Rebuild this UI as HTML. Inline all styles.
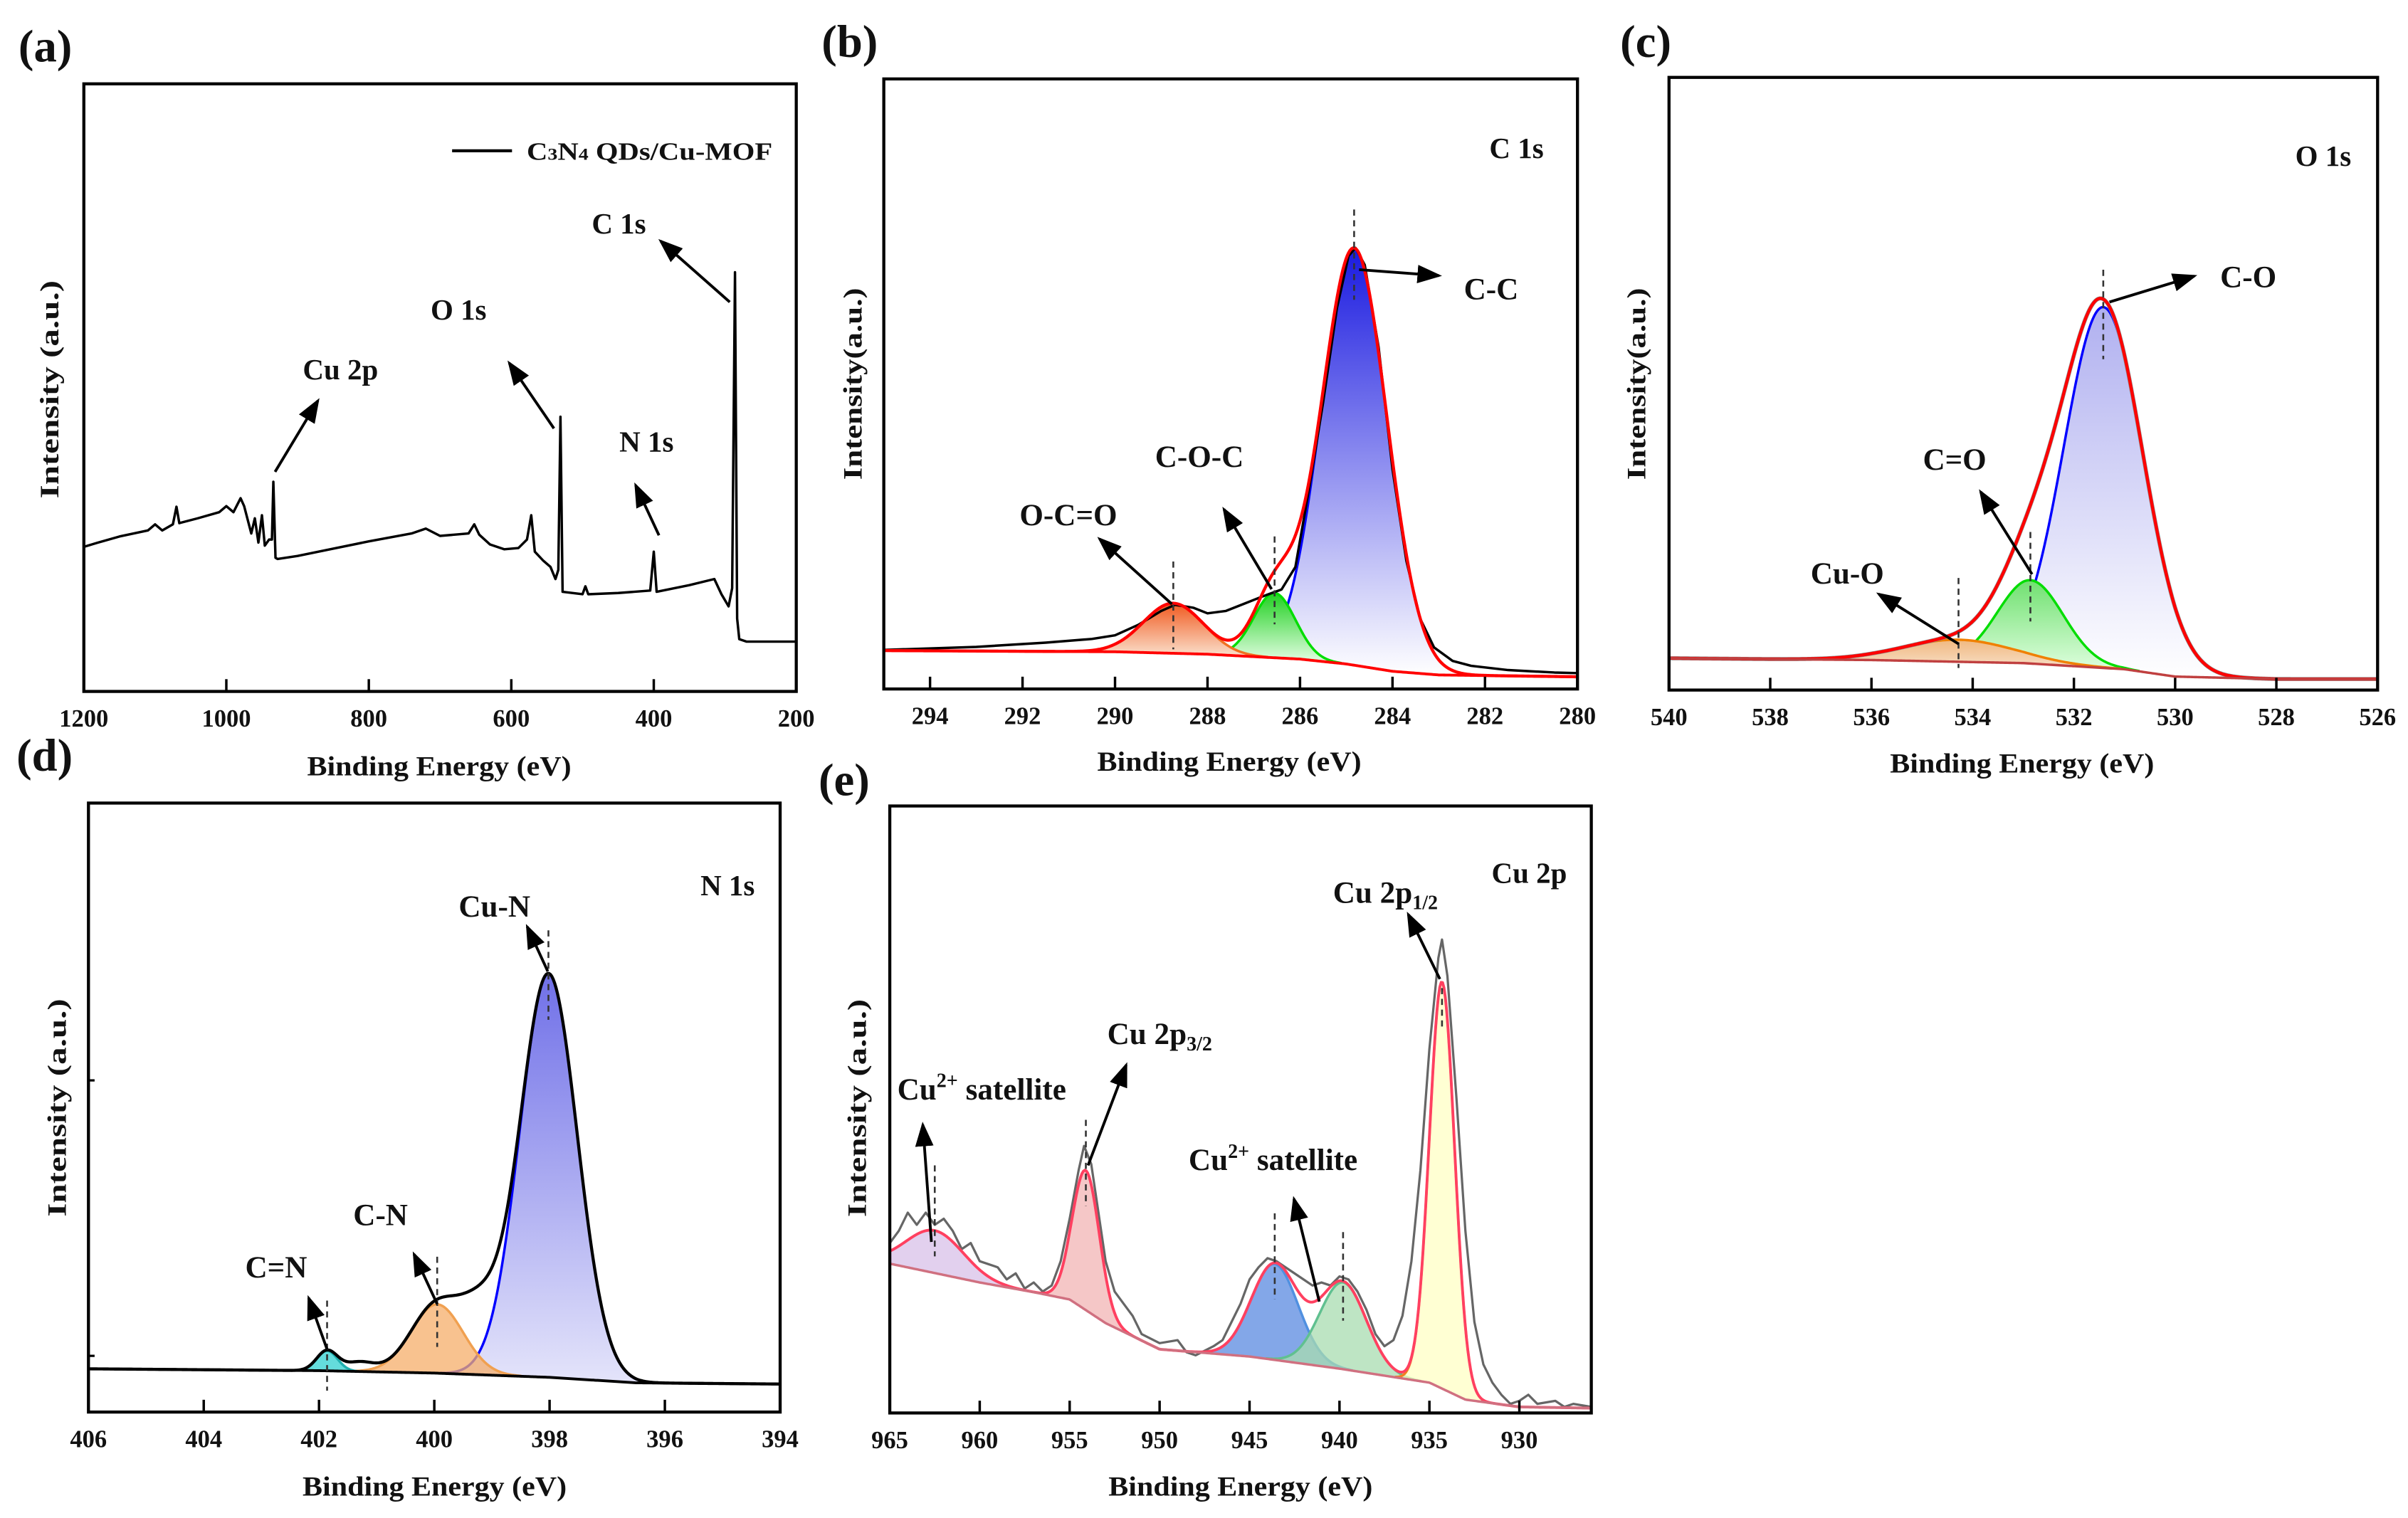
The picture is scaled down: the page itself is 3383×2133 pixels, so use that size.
<!DOCTYPE html>
<html><head><meta charset="utf-8"><style>
html,body{margin:0;padding:0;background:#fff}
svg{display:block}
text{font-family:"Liberation Serif",serif;font-weight:bold;fill:#111}
</style></head><body>
<svg id="fig" xmlns="http://www.w3.org/2000/svg" width="3383" height="2133" viewBox="0 0 1568 988.6" preserveAspectRatio="none">
<defs>
<marker id="ah" markerUnits="userSpaceOnUse" markerWidth="16" markerHeight="12" refX="14" refY="6" orient="auto"><path d="M0,0 L16,6 L0,12 z" fill="#000"/></marker>
<linearGradient id="gB1" x1="0" y1="0" x2="0" y2="1"><stop offset="0" stop-color="#1a1ae0"/><stop offset="1" stop-color="#ffffff"/></linearGradient>
<linearGradient id="gB2" x1="0" y1="0" x2="0" y2="1"><stop offset="0" stop-color="#20d020"/><stop offset="1" stop-color="#e8ffe8"/></linearGradient>
<linearGradient id="gB3" x1="0" y1="0" x2="0" y2="1"><stop offset="0" stop-color="#f05a20"/><stop offset="1" stop-color="#fbe3d0"/></linearGradient>
<linearGradient id="gC1" x1="0" y1="0" x2="0" y2="1"><stop offset="0" stop-color="#b0b0f0"/><stop offset="1" stop-color="#ffffff"/></linearGradient>
<linearGradient id="gC2" x1="0" y1="0" x2="0" y2="1"><stop offset="0" stop-color="#70e070"/><stop offset="1" stop-color="#e0ffe0"/></linearGradient>
<linearGradient id="gC3" x1="0" y1="0" x2="0" y2="1"><stop offset="0" stop-color="#f0b880"/><stop offset="1" stop-color="#f8e0c8"/></linearGradient>
<linearGradient id="gD1" x1="0" y1="0" x2="0" y2="1"><stop offset="0" stop-color="#7070e8"/><stop offset="1" stop-color="#e4e4fa"/></linearGradient>
</defs>
<g id="layer"></g>
</svg>
<script>
// ---------- DATA ----------
const aTicks=[1200,1000,800,600,400,200];
const surveyE=[1200,1180,1150,1110,1100,1090,1075,1070,1066,1040,1010,1000,990,980,975,965,960,955,950,946,940,936,934,931,928,900,850,800,740,720,700,660,652,645,630,610,590,578,572,567,555,545,538,534,531,528,500,496,492,450,405,400,396,350,315,305,295,290,286,283,280,270,200];
const surveyI=[23.8,24.5,25.5,26.5,27.5,26.5,27.5,30.4,27.7,28.5,29.5,30.5,29.5,31.8,30.5,26,28.5,24.5,29,24,25,25,34.5,22,21.8,22.3,23.5,24.7,26,26.8,25.6,26,27.5,25.8,24.2,23.4,23.6,25,29,23,21.5,20.5,18.5,20,45.2,16.4,16.0,17.3,16.0,16.2,16.6,23,16.4,17.5,18.5,16,14,17,69,12,8.6,8.2,8.2];

const bTicks=[294,292,290,288,286,284,282,280];
const bBaseE=[295,290,288,286,285,284,283,280];
const bBaseI=[6.3,6.1,5.7,4.9,4.1,2.9,2.3,2.0];
const bCenters=[284.83,286.55,288.74];
const bHeights=[68.4,10.6,8.2];
const bSigmas=[0.71,0.45,0.65];
const bRawE=[295,293,291.5,290.5,290,289.5,289,288.7,288.3,288,287.6,287.2,286.8,286.4,286.1,285.8,285.5,285.2,284.95,284.8,284.6,284.3,284,283.7,283.4,283.1,282.7,282.3,281.5,280.5,280];
const bRawI=[6.4,6.9,7.6,8.2,8.8,10.5,12.8,13.8,13.3,12.4,12.8,14,15.2,16.3,20,33,47,62.5,71,72.3,69.5,56,36,21,11.5,6.8,4.6,3.8,3.1,2.7,2.6];

const cTicks=[540,538,536,534,532,530,528,526];
const cBaseE=[540,536,533,531,530,528,526];
const cBaseI=[5.2,4.9,4.4,3.4,2.2,1.8,1.8];
const cCenters=[531.42,532.86,534.28];
const cHeights=[58.9,13.6,3.6];
const cSigmas=[0.78,0.65,1.1];

const dTicks=[406,404,402,400,398,396,394];
const dBaseE=[406,402,400,398,396.5,394];
const dBaseI=[7.1,6.8,6.4,5.7,4.8,4.6];
const dCenters=[398.02,399.95,401.86,399.2,401.3];
const dHeights=[66.3,11.3,3.3,8,1.5];
const dSigmas=[0.5,0.45,0.18,0.35,0.25];

const eTicks=[965,960,955,950,945,940,935,930];
const eBaseE=[965,960,957,955,953,950,945,940,935,933,930,926];
const eBaseI=[24.6,21.5,19.9,18.7,14.8,10.5,9.3,7.3,5.0,2.2,1.0,0.8];
const eCenters=[962.5,954.1,943.6,939.8,934.3];
const eHeights=[7,23,15.8,14.3,67];
const eSigmas=[1.6,0.75,1.3,1.3,0.7];
const eRawE=[965,964.5,964,963.5,963,962.5,962,961.5,961,960.5,960,959.5,959,958.5,958,957.5,957,956.5,956,955.5,955,954.5,954.2,953.8,953.5,953,952.5,952,951.5,951,950,949,948.5,948,947,946.5,946,945.5,945,944.5,944,943.5,943,942.5,942,941.5,941,940.5,940,939.5,939,938.5,938,937.5,937,936.5,936,935.5,935,934.5,934.3,934,933.5,933,932.5,932,931.5,931,930.5,930,929.5,929,928,927.5,927,926];
const eRawI=[28,30,33,31,33,31,32,30,27,28,25,24.5,24,22,23,20.5,21.5,20,21,25,32,40,44,41,35,25,20,18,16,13,11.5,12,10,9.5,11,12,15,18,22,24,25.5,25,24,23,22,21,21.5,21,22.5,22,20,17,13,11,12,16,25,40,60,75,78,72,52,30,15,8,5,3,1.5,2,3,1.5,2,1,1.5,1];

// ---------- LAYOUT ----------
const P={
 a:{x0:54.6,x1:518.5,y0:54.6,y1:450.3,e0:1200,e1:200},
 b:{x0:575.5,x1:1027.2,y0:51.4,y1:448.7,e0:295,e1:280},
 c:{x0:1086.8,x1:1548.2,y0:50.4,y1:449.4,e0:540,e1:526},
 d:{x0:57.6,x1:508,y0:523,y1:919.6,e0:406,e1:394},
 e:{x0:579.4,x1:1036.2,y0:524.9,y1:920.2,e0:965,e1:926}
};
const NS="http://www.w3.org/2000/svg";
const L=document.getElementById('layer');
function sx(p,E){return p.x0+(p.e0-E)/(p.e0-p.e1)*(p.x1-p.x0);}
function sy(p,v){return p.y1-v/100*(p.y1-p.y0);}
function mk(tag,attrs,parent){const el=document.createElementNS(NS,tag);for(const k in attrs)el.setAttribute(k,attrs[k]);(parent||L).appendChild(el);return el;}
function interp(xs,ys,x){for(let i=0;i<xs.length-1;i++){const a=xs[i],b=xs[i+1];if((x<=a&&x>=b)||(x>=a&&x<=b)){const t=(x-a)/(b-a);return ys[i]+t*(ys[i+1]-ys[i]);}}return x>xs[0]===xs[0]>xs[xs.length-1]?ys[0]:ys[ys.length-1];}
function gauss(E,c,h,s){return h*Math.exp(-(E-c)*(E-c)/(2*s*s));}
function grid(p,n){const g=[];for(let i=0;i<=n;i++)g.push(p.e0+(p.e1-p.e0)*i/n);return g;}
function pathFrom(p,Es,vals){return Es.map((E,i)=>(i?'L':'M')+sx(p,E).toFixed(2)+','+sy(p,vals[i]).toFixed(2)).join(' ');}

function frame(p,ticks,name){
  const g=mk('g',{});
  
  
  const r=mk('rect',{x:p.x0,y:p.y0,width:p.x1-p.x0,height:p.y1-p.y0,fill:'none',stroke:'#000','stroke-width':2},g);
  
  
  ticks.forEach(t=>{
    const x=sx(p,t);
    const tk=mk('line',{x1:x,x2:x,y1:p.y1,y2:p.y1-8,stroke:'#000','stroke-width':1.6},g);
    
    
    const tl=mk('text',{x:x,y:p.y1+23,'text-anchor':'middle','font-size':16},g);
    
    
    tl.textContent=t;
  });
}
function txt(x,y,s,size,name,anchor,extra){
  const t=mk('text',Object.assign({x:x,y:y,'font-size':size,'text-anchor':anchor||'middle'},extra||{}));
  
  
  t.textContent=s;return t;
}
function arrow(x1,y1,x2,y2,name){
  const a=mk('line',{x1:x1,y1:y1,x2:x2,y2:y2,stroke:'#000','stroke-width':1.8,'marker-end':'url(#ah)'});
  
  
}
function dash(p,E,v1,v2,name){
  const x=sx(p,E);
  const d=mk('line',{x1:x,x2:x,y1:sy(p,v1),y2:sy(p,v2),stroke:'#333','stroke-width':1.2,'stroke-dasharray':'4,3'});
  
  
}
function ytitle(x,y,s,name,len){
  const t=txt(x,y,s,17,name,'middle',{transform:'rotate(-90 '+x+' '+y+')',dy:6});
  if(len){t.setAttribute('textLength',len);t.setAttribute('lengthAdjust','spacingAndGlyphs');}
}
function xtitle(x,y,s,name){
  const t=txt(x,y,s,18,name);
  t.setAttribute('textLength',172);t.setAttribute('lengthAdjust','spacingAndGlyphs');
}
function fitPanel(p,bE,bI,C,H,S,fills,strokes,nm){
  const G=grid(p,500);
  const base=G.map(E=>interp(bE,bI,E));
  C.forEach((c,k)=>{
    if(k>=fills.length)return;
    const top=G.map((E,i)=>base[i]+gauss(E,c,H[k],S[k]));
    const idx=G.map((E,i)=>i).filter(i=>top[i]-base[i]>0.05);
    if(!idx.length)return;
    const Es=idx.map(i=>G[i]),tv=idx.map(i=>top[i]),bv=idx.map(i=>base[i]);
    const d=pathFrom(p,Es,tv)+' '+Es.slice().reverse().map((E,j)=>'L'+sx(p,E).toFixed(2)+','+sy(p,bv[bv.length-1-j]).toFixed(2)).join(' ')+' Z';
    const f=mk('path',{d:d,fill:fills[k],'fill-opacity':fills[k].startsWith('url')?1:0.75,stroke:'none'});
    
    
    const s=mk('path',{d:pathFrom(p,Es,tv),fill:'none',stroke:strokes[k],'stroke-width':1.6});
    
    
  });
  return {G:G,base:base,env:G.map((E,i)=>base[i]+C.reduce((acc,c,k)=>acc+gauss(E,c,H[k],S[k]),0))};
}
function line(p,Es,vals,color,w,name){
  const l=mk('path',{d:pathFrom(p,Es,vals),fill:'none',stroke:color,'stroke-width':w,'stroke-linejoin':'round'});
  
  
}

// ---------- PANEL A ----------
(function(){const p=P.a;
 line(p,surveyE,surveyI,'#000',1.6,'survey-spectrum');
 frame(p,aTicks,'panel-a');
 txt(12,40,'(a)',30,'panel-a-label','start');
 const lg=mk('line',{x1:294.4,x2:333.4,y1:98.2,y2:98.2,stroke:'#000','stroke-width':2});
 
 
 const t=mk('text',{x:343,y:104,'font-size':16,'text-anchor':'start',textLength:160,lengthAdjust:'spacingAndGlyphs'});
 
 
 t.innerHTML='C<tspan font-size="11">3</tspan>N<tspan font-size="11">4</tspan> QDs/Cu-MOF';
 txt(403,152,'C 1s',19,'c1s-annotation');arrow(475.2,196.7,430.2,157,'c1s-arrow');
 txt(298.6,208,'O 1s',19,'o1s-annotation');arrow(360.7,279,331.6,236.4,'o1s-arrow');
 txt(421,294,'N 1s',19,'n1s-annotation');arrow(429.1,348.6,413.9,316,'n1s-arrow');
 txt(221.7,247,'Cu 2p',19,'cu2p-annotation');arrow(179.1,307.3,207,261,'cu2p-arrow');
 ytitle(31.9,253.6,'Intensity (a.u.)','panel-a-y-title',142);
 xtitle(286,505,'Binding Energy (eV)','panel-a-x-title');
})();

// ---------- PANEL B ----------
(function(){const p=P.b;
 const r=fitPanel(p,bBaseE,bBaseI,bCenters,bHeights,bSigmas,['url(#gB1)','url(#gB2)','url(#gB3)'],['#0000ff','#00dd00','#f07020'],'c1s');
 line(p,bRawE,bRawI,'#000',1.6,'c1s-raw-spectrum');
 line(p,r.G,r.env,'#ff0000',2,'c1s-envelope');
 line(p,r.G,r.base,'#ff0000',1.8,'c1s-background');
 dash(p,284.83,78.6,63.8,'cc-dash');dash(p,286.55,25,10.6,'coc-dash');dash(p,288.74,20.9,6.5,'ocdo-dash');
 frame(p,bTicks,'panel-b');
 txt(535,37,'(b)',30,'panel-b-label','start');
 txt(987.5,103,'C 1s',19,'panel-b-title');
 txt(971,195,'C-C',20,'cc-annotation');arrow(885,175.6,937,179.5,'cc-arrow');
 txt(781,304,'C-O-C',20,'coc-annotation');arrow(828,383.7,797,331.7,'coc-arrow');
 txt(695.7,342,'O-C=O',20,'ocdo-annotation');arrow(763.1,393.4,716,351,'ocdo-arrow');
 ytitle(555,250,'Intensity(a.u.)','panel-b-y-title',125);
 xtitle(800.5,502,'Binding Energy (eV)','panel-b-x-title');
})();

// ---------- PANEL C ----------
(function(){const p=P.c;
 const r=fitPanel(p,cBaseE,cBaseI,cCenters,cHeights,cSigmas,['url(#gC1)','url(#gC2)','url(#gC3)'],['#0000ff','#00dd00','#f08000'],'o1s');
 line(p,r.G,r.env,'#888',2.6,'o1s-raw-spectrum');
 line(p,r.G,r.env,'#ff0000',2,'o1s-envelope');
 line(p,r.G,r.base,'#c04040',1.6,'o1s-background');
 dash(p,531.42,68.6,54,'co-dash');dash(p,532.86,25.8,11.2,'cdo-dash');dash(p,534.28,18.3,3.6,'cuo-dash');
 frame(p,cTicks,'panel-c');
 txt(1055,37,'(c)',30,'panel-c-label','start');
 txt(1512.8,108,'O 1s',19,'panel-c-title');
 txt(1464,187,'C-O',20,'co-annotation');arrow(1373.6,196.7,1428.9,179.8,'co-arrow');
 txt(1272.8,306,'C=O',20,'cdo-annotation');arrow(1323.2,374,1289.7,320.3,'cdo-arrow');
 txt(1202.9,380,'Cu-O',20,'cuo-annotation');arrow(1275.4,419.4,1223.4,386.9,'cuo-arrow');
 ytitle(1065.4,250,'Intensity(a.u.)','panel-c-y-title',125);
 xtitle(1316.7,503,'Binding Energy (eV)','panel-c-x-title');
})();

// ---------- PANEL D ----------
(function(){const p=P.d;
 const r=fitPanel(p,dBaseE,dBaseI,dCenters,dHeights,dSigmas,['url(#gD1)','#f5ad6a','#30d0d0'],['#0000ff','#f0a050','#20b0b0'],'n1s');
 line(p,r.G,r.env,'#000',2,'n1s-envelope');
 line(p,r.G,r.base,'#000',1.8,'n1s-background');
 dash(p,398.02,79.1,64.4,'cun-dash');dash(p,399.95,25.5,10.7,'cn-dash');dash(p,401.86,18.3,3.5,'cdn-dash');
 frame(p,dTicks,'panel-d');
 [703.6,883].forEach(y=>{const t=mk('line',{x1:p.x0,x2:p.x0+4,y1:y,y2:y,stroke:'#000','stroke-width':1.5});});
 txt(10.7,502,'(d)',30,'panel-d-label','start');
 txt(473.8,583,'N 1s',19,'panel-d-title');
 txt(322,597,'Cu-N',20,'cun-annotation');arrow(356.7,632.6,343.3,603.5,'cun-arrow');
 txt(247.8,798,'C-N',20,'cn-annotation');arrow(284.7,849.3,269.6,816.8,'cn-arrow');
 txt(179.8,832,'C=N',20,'cdn-annotation');arrow(213,878.8,201,845.3,'cdn-arrow');
 ytitle(36.8,721.4,'Intensity (a.u.)','panel-d-y-title',142);
 xtitle(283,974,'Binding Energy (eV)','panel-d-x-title');
})();

// ---------- PANEL E ----------
(function(){const p=P.e;
 const r=fitPanel(p,eBaseE,eBaseI,eCenters,eHeights,eSigmas,['#d8c0e8','#f2b4b4','#5a8ae0','#a8dcb0','#ffffc4'],['#ff6080','#ff5060','#5090e0','#60c090','#f08020'],'cu2p');
 line(p,eRawE,eRawI,'#666',1.5,'cu2p-raw-spectrum');
 line(p,r.G,r.env,'#ff4060',1.8,'cu2p-envelope');
 line(p,r.G,r.base,'#d07080',1.6,'cu2p-background');
 dash(p,962.5,40.8,25.8,'sat1-dash');dash(p,954.1,48.3,34.1,'p32-dash');dash(p,943.6,32.9,18.7,'sat2-dash');dash(p,939.8,29.8,15.2,'sat3-dash');dash(p,934.3,70,63.2,'p12-dash');
 frame(p,eTicks,'panel-e');
 txt(533,518,'(e)',30,'panel-e-label','start');
 txt(995.8,575,'Cu 2p',19,'panel-e-title');
 let t=txt(868,588,'',20,'p12-annotation','start');t.innerHTML='Cu 2p<tspan font-size="13" dy="4">1/2</tspan>';
 arrow(937.6,637.6,917,595.5,'p12-arrow');
 t=txt(721,680,'',20,'p32-annotation','start');t.innerHTML='Cu 2p<tspan font-size="13" dy="4">3/2</tspan>';
 arrow(708.5,759,733.3,693.6,'p32-arrow');
 t=txt(584.3,716,'',20,'sat1-annotation','start');t.innerHTML='Cu<tspan font-size="13" dy="-8">2+</tspan><tspan dy="8"> satellite</tspan>';
 arrow(606.5,808.8,600.9,732.5,'sat1-arrow');
 t=txt(774,762,'',20,'sat2-annotation','start');t.innerHTML='Cu<tspan font-size="13" dy="-8">2+</tspan><tspan dy="8"> satellite</tspan>';
 arrow(859.1,847.7,842.6,780.8,'sat2-arrow');
 ytitle(557.8,721.6,'Intensity (a.u.)','panel-e-y-title',142);
 xtitle(807.8,974,'Binding Energy (eV)','panel-e-x-title');
})();
</script>
</body></html>
